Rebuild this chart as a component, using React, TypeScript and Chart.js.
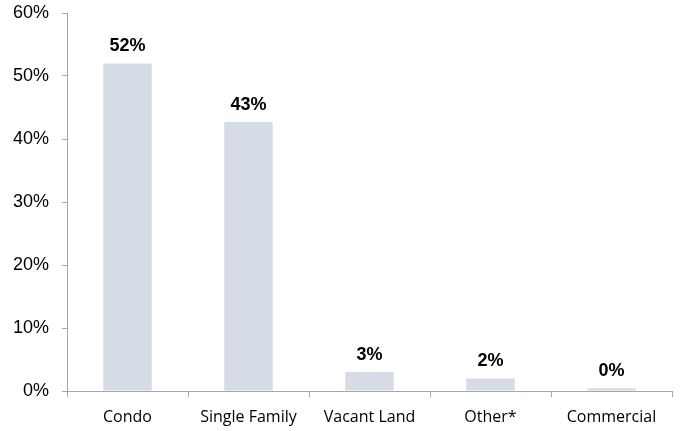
import React, { useEffect, useRef } from "react";
import { Chart, registerables } from "chart.js";

Chart.register(...registerables);

const categories = ["Condo", "Single Family", "Vacant Land", "Other*", "Commercial"];
const shares = [52, 42.7, 3, 2, 0.45];
const shareLabels = ["52%", "43%", "3%", "2%", "0%"];
const yTicks = [0, 10, 20, 30, 40, 50, 60];

const barColor = "#d5dce6";
const axisColor = "#a6a6a6";

const valueLabels = {
  id: "valueLabels",
  afterDatasetsDraw(chart: any) {
    const ctx = chart.ctx;
    const meta = chart.getDatasetMeta(0);
    ctx.save();
    ctx.font = "bold 18px 'Liberation Sans', Arial, sans-serif";
    ctx.fillStyle = "#000";
    ctx.textAlign = "center";
    ctx.textBaseline = "alphabetic";
    meta.data.forEach((bar: any, i: number) => {
      ctx.fillText(shareLabels[i], bar.x, bar.y - 12);
    });
    ctx.restore();
  },
};

export default function App() {
  const ref = useRef<HTMLCanvasElement>(null);
  useEffect(() => {
    document.body.style.margin = "0";
    const chart = new Chart(ref.current!, {
      type: "bar",
      data: {
        labels: categories,
        datasets: [
          {
            data: shares,
            backgroundColor: barColor,
            borderWidth: 0,
            categoryPercentage: 0.4,
            barPercentage: 1,
          },
        ],
      },
      options: {
        animation: false,
        responsive: false,
        maintainAspectRatio: false,
        layout: { padding: { top: 13, right: 10, left: 0, bottom: 0 } },
        plugins: { legend: { display: false }, tooltip: { enabled: false } },
        scales: {
          x: {
            grid: {
              offset: true,
              drawOnChartArea: false,
              drawTicks: true,
              tickLength: 6,
              color: axisColor,
            },
            border: { color: axisColor, width: 1 },
            ticks: {
              color: "#000",
              font: { family: "'Open Sans', sans-serif", size: 16 },
              padding: 11,
              maxRotation: 0,
              autoSkip: false,
            },
            afterFit(scale: any) {
              scale.height = 40;
              scale.paddingLeft = 0;
              scale.paddingRight = 0;
            },
          },
          y: {
            min: 0,
            max: 60,
            afterBuildTicks(scale: any) {
              scale.ticks = yTicks.map((v) => ({ value: v }));
            },
            grid: {
              drawOnChartArea: false,
              drawTicks: true,
              tickLength: 5,
              color: axisColor,
            },
            border: { color: axisColor, width: 1 },
            ticks: {
              color: "#000",
              font: { family: "'Liberation Sans', Arial, sans-serif", size: 18 },
              padding: 13,
              callback: (v: any) => v + "%",
            },
            afterFit(scale: any) {
              scale.width = 67;
              scale.paddingTop = 0;
              scale.paddingBottom = 0;
            },
          },
        },
      },
      plugins: [valueLabels],
    });
    return () => chart.destroy();
  }, []);
  return (
    <div style={{ position: "absolute", left: 0, top: 0, width: 682, height: 431 }}>
      <canvas ref={ref} width={682} height={431} style={{ width: 682, height: 431 }} />
    </div>
  );
}
